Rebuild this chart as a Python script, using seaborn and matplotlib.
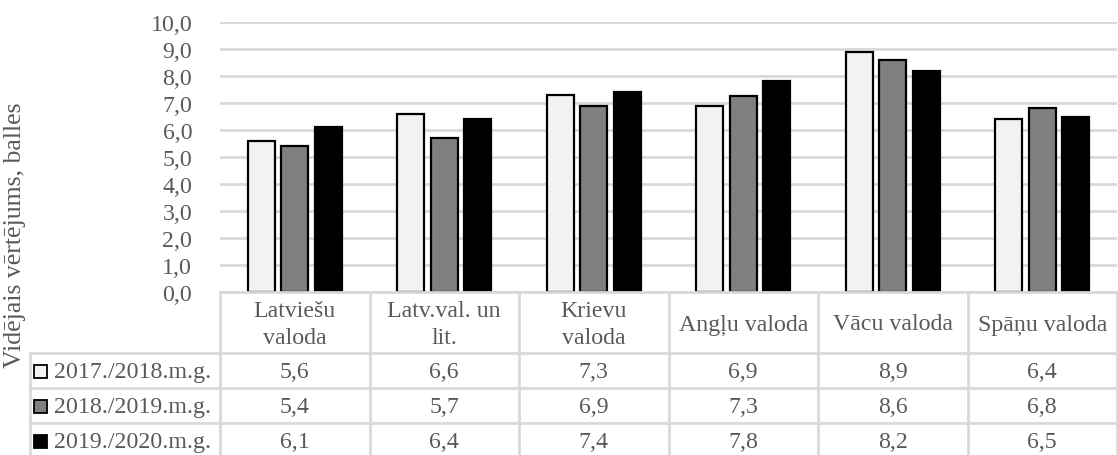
import matplotlib
matplotlib.use("Agg")
import matplotlib.pyplot as plt
import matplotlib.transforms as mtransforms
from matplotlib.patches import Rectangle
from matplotlib.lines import Line2D
import seaborn as sns
import pandas as pd

# ---- data ----
categories = ["Latviešu\nvaloda", "Latv.val. un\nlit.", "Krievu\nvaloda",
              "Angļu valoda", "Vācu valoda", "Spāņu valoda"]
series_names = ["2017./2018.m.g.", "2018./2019.m.g.", "2019./2020.m.g."]
vals_2017 = [5.6, 6.6, 7.3, 6.9, 8.9, 6.4]
vals_2018 = [5.4, 5.7, 6.9, 7.26, 8.6, 6.8]
vals_2019 = [6.1, 6.4, 7.4, 7.8, 8.2, 6.5]
series_colors = ["#f2f2f2", "#808080", "#000000"]
y_ticks = [0, 1, 2, 3, 4, 5, 6, 7, 8, 9, 10]
y_label = "Vidējais vērtējums, balles"

series_vals = [vals_2017, vals_2018, vals_2019]
df = pd.DataFrame({
    "cat": [c for _ in series_names for c in categories],
    "series": [s for s in series_names for _ in categories],
    "value": [v for vals in series_vals for v in vals],
})

sns.set_theme(style="white")
FONT = ["Liberation Serif", "DejaVu Serif"]
plt.rcParams["font.family"] = FONT
TXT = "#595959"
GRID = "#d9d9d9"
FS = 17.2

W, H = 1118, 456
fig = plt.figure(figsize=(W / 100, H / 100), dpi=100)
ax_left, ax_right, ax_top, ax_bot = 220, 1117, 23, 293
ax = fig.add_axes([ax_left / W, 1 - ax_bot / H, (ax_right - ax_left) / W, (ax_bot - ax_top) / H])

sns.barplot(data=df, x="cat", y="value", hue="series", order=categories,
            hue_order=series_names, palette=series_colors, edgecolor="black",
            linewidth=1.6, width=0.67, gap=0.19, legend=False, ax=ax, zorder=3)

ax.set_xlim(-0.5, len(categories) - 0.5)
ax.set_ylim(0, 10)
ax.set_yticks(y_ticks)
ax.set_yticklabels([f"{t:.1f}".replace(".", ",") for t in y_ticks], color=TXT, fontsize=FS)
ax.tick_params(axis="y", length=0, pad=20)
ax.set_xticks([])
ax.set_xlabel("")
ax.set_ylabel("")
ax.yaxis.grid(True, color=GRID, linewidth=2)
ax.set_axisbelow(True)
for s in ax.spines.values():
    s.set_visible(False)

# ---- y label ----
fig.text(15 / W, 1 - 235 / H, y_label, rotation=90, ha="center", va="center",
         color=TXT, fontsize=18.5, family=FONT)

# ---- data table ----
def fy(py):
    return 1 - py / H

def fx(px):
    return px / W

header_top, header_bot = 293, 354
row_h = 35
n_rows = len(series_names)
row_lines = [header_bot + i * row_h for i in range(n_rows + 1)]
legend_left = 30
col_w = (ax_right - ax_left) / len(categories)

lines = []
lines.append(Line2D([fx(ax_left), fx(ax_right)], [fy(header_top)] * 2))
for y in row_lines:
    lines.append(Line2D([fx(legend_left), fx(ax_right)], [fy(y)] * 2))
for k in range(len(categories) + 1):
    x = ax_left + k * col_w
    lines.append(Line2D([fx(x)] * 2, [fy(header_top), fy(row_lines[-1])]))
lines.append(Line2D([fx(legend_left)] * 2, [fy(header_bot), fy(row_lines[-1])]))
for ln in lines:
    ln.set_color(GRID)
    ln.set_linewidth(2)
    fig.add_artist(ln)

blend = mtransforms.blended_transform_factory(ax.transData, fig.transFigure)
for i, c in enumerate(categories):
    fig.text(i, fy((header_top + header_bot) / 2 + 1.5), c, transform=blend,
             ha="center", va="center", color=TXT, fontsize=FS, family=FONT,
             linespacing=1.38)

for r, (name, vals, col) in enumerate(zip(series_names, series_vals, series_colors)):
    yc = row_lines[r] + row_h / 2 + 1
    sq = 13
    fig.add_artist(Rectangle((fx(34), fy(yc + sq / 2)), sq / W, sq / H,
                             facecolor=col, edgecolor="black", linewidth=1.3,
                             transform=fig.transFigure))
    fig.text(fx(54), fy(yc), name, ha="left", va="center", color=TXT,
             fontsize=FS, family=FONT)
    for i, v in enumerate(vals):
        fig.text(i, fy(yc), f"{v:.1f}".replace(".", ","), transform=blend,
                 ha="center", va="center", color=TXT, fontsize=FS, family=FONT)

fig.savefig("out.png", dpi=100)
